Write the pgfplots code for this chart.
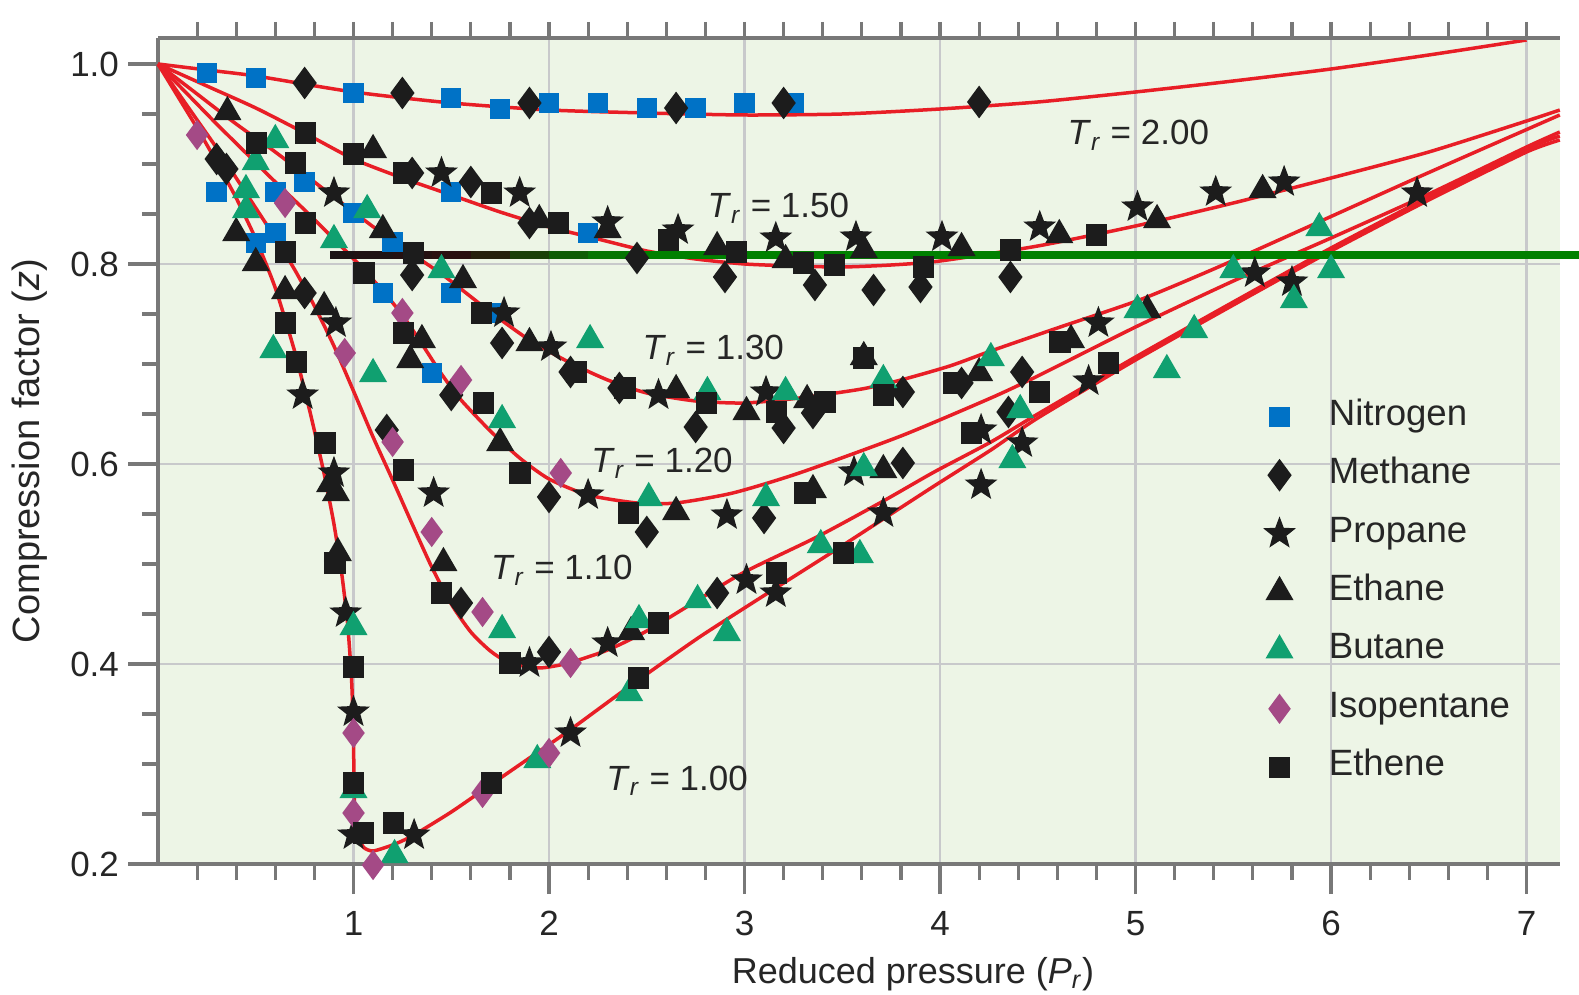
\documentclass[border=0pt]{standalone}
\usepackage{fontspec}
\setmainfont{Liberation Sans}
\usepackage{pgfplots}
\pgfplotsset{compat=1.18}
\usetikzlibrary{plotmarks}

\definecolor{bgc}{RGB}{237,245,230}
\definecolor{gridc}{RGB}{200,201,203}
\definecolor{axc}{RGB}{120,120,120}
\definecolor{redc}{RGB}{232,30,38}
\definecolor{nblue}{RGB}{0,114,198}
\definecolor{bgreen}{RGB}{16,160,112}
\definecolor{ipurp}{RGB}{164,74,134}
\definecolor{blk}{RGB}{28,28,28}
\definecolor{lgreen}{RGB}{0,128,0}

\pgfdeclareplotmark{fsq}{%
  \pgfpathrectanglecorners{\pgfqpoint{-\pgfplotmarksize}{-\pgfplotmarksize}}{\pgfqpoint{\pgfplotmarksize}{\pgfplotmarksize}}%
  \pgfusepathqfill}
\pgfdeclareplotmark{fdia}{%
  \pgfpathmoveto{\pgfqpoint{0pt}{\pgfplotmarksize}}%
  \pgfpathlineto{\pgfqpoint{0.74\pgfplotmarksize}{0pt}}%
  \pgfpathlineto{\pgfqpoint{0pt}{-\pgfplotmarksize}}%
  \pgfpathlineto{\pgfqpoint{-0.74\pgfplotmarksize}{0pt}}%
  \pgfpathclose\pgfusepathqfill}
\pgfdeclareplotmark{ftri}{%
  \pgfpathmoveto{\pgfqpoint{0pt}{\pgfplotmarksize}}%
  \pgfpathlineto{\pgfqpoint{-0.866\pgfplotmarksize}{-0.5\pgfplotmarksize}}%
  \pgfpathlineto{\pgfqpoint{0.866\pgfplotmarksize}{-0.5\pgfplotmarksize}}%
  \pgfpathclose\pgfusepathqfill}
\pgfdeclareplotmark{fstar}{%
  \pgfpathmoveto{\pgfqpointpolar{90}{\pgfplotmarksize}}%
  \pgfpathlineto{\pgfqpointpolar{126}{0.42\pgfplotmarksize}}%
  \pgfpathlineto{\pgfqpointpolar{162}{\pgfplotmarksize}}%
  \pgfpathlineto{\pgfqpointpolar{198}{0.42\pgfplotmarksize}}%
  \pgfpathlineto{\pgfqpointpolar{234}{\pgfplotmarksize}}%
  \pgfpathlineto{\pgfqpointpolar{270}{0.42\pgfplotmarksize}}%
  \pgfpathlineto{\pgfqpointpolar{306}{\pgfplotmarksize}}%
  \pgfpathlineto{\pgfqpointpolar{342}{0.42\pgfplotmarksize}}%
  \pgfpathlineto{\pgfqpointpolar{18}{\pgfplotmarksize}}%
  \pgfpathlineto{\pgfqpointpolar{54}{0.42\pgfplotmarksize}}%
  \pgfpathclose\pgfusepathqfill}

\begin{document}
\begin{tikzpicture}
\begin{axis}[name=ax, at={(0,0)}, anchor=south west,
  scale only axis, width=700.9pt, height=413pt,
  xmin=0, xmax=7.17, ymin=0.2, ymax=1.026, clip=false,
  axis x line*=bottom, axis y line*=left,
  axis line style={draw=axc, line width=1.6pt},
  axis background/.style={fill=bgc},
  xtick={1,2,3,4,5,6,7}, xticklabels={1,2,3,4,5,6,7},
  minor xtick={0.2,0.4,...,7.1},
  ytick={0.2,0.4,0.6,0.8}, yticklabels={0.2,0.4,0.6,0.8},
  extra y ticks={1.0}, extra y tick labels={1.0}, extra y tick style={grid=none},
  minor ytick={0.25,0.3,...,1.01},
  tick align=outside, major tick length=15pt, minor tick length=8pt,
  tick style={draw=axc, line width=1.6pt},
  xmajorgrids, ymajorgrids,
  major grid style={draw=gridc, line width=1.4pt},
  ticklabel style={font=\fontsize{17.5}{20}\selectfont, text=black!85},
  xticklabel style={yshift=-5pt},
  yticklabel style={xshift=-1pt},
  /pgf/number format/assume math mode=true,
  xlabel={Reduced pressure (\textit{P}\textsubscript{\textit{r}})},
  ylabel={Compression factor (\textit{z})},
  xlabel style={at={(axis description cs:0.5386,-0.145)}, anchor=base, font=\fontsize{18}{21}\selectfont, text=black!85},
  ylabel style={at={(axis description cs:-0.0915,0.5)}, anchor=center, font=\fontsize{19}{21}\selectfont, text=black!85},
  colormap={gl}{rgb255=(25,20,20) rgb255=(45,15,15) rgb255=(0,128,0)},
  legend cell align=left,
  legend style={at={(axis cs:5.62,0.673)}, anchor=north west, draw=none, fill=none,
    font=\fontsize{18.3}{21}\selectfont, text=black!85, row sep=7.8pt, column sep=14.5pt,
    nodes={text height=13pt, text depth=4.4pt, inner sep=2pt}},
]
% ---- red curves ----
\addplot[redc, line width=1.75pt, smooth, tension=0.4, forget plot] coordinates {
(0,1)(0.25,0.994)(0.5,0.988)(1,0.972)(1.5,0.961)(2,0.954)(2.5,0.951)(3,0.949)(3.5,0.950)(4,0.955)(4.5,0.962)(5,0.972)(5.5,0.983)(6,0.995)(6.5,1.009)(7,1.024)};
\addplot[redc, line width=1.75pt, smooth, tension=0.4, forget plot] coordinates {
(0,1)(0.25,0.978)(0.5,0.956)(0.75,0.931)(1.0,0.905)(1.25,0.886)(1.5,0.869)(1.75,0.852)(2.0,0.837)(2.25,0.825)(2.5,0.813)(2.75,0.805)(3.0,0.8)(3.25,0.798)(3.5,0.797)(3.75,0.799)(4.0,0.803)(4.5,0.818)(5.0,0.838)(5.5,0.861)(6.0,0.886)(6.5,0.912)(7.0,0.943)(7.17,0.954)};
\addplot[redc, line width=1.75pt, smooth, tension=0.4, forget plot] coordinates {
(0,1)(0.2,0.97)(0.4,0.94)(0.6,0.912)(0.8,0.882)(1.0,0.852)(1.2,0.823)(1.45,0.79)(1.7,0.752)(1.9,0.724)(2.1,0.702)(2.3,0.684)(2.5,0.671)(2.75,0.663)(3.0,0.661)(3.28,0.666)(3.6,0.675)(3.8,0.684)(4.05,0.698)(4.26,0.713)(4.6,0.736)(5.02,0.764)(5.4,0.795)(5.79,0.829)(6.46,0.888)(7.17,0.949)};
\addplot[redc, line width=1.75pt, smooth, tension=0.4, forget plot] coordinates {
(0,1)(0.15,0.97)(0.3,0.94)(0.45,0.911)(0.6,0.882)(0.75,0.854)(0.9,0.825)(1.05,0.795)(1.15,0.773)(1.25,0.749)(1.35,0.72)(1.45,0.69)(1.55,0.664)(1.7,0.633)(1.85,0.606)(2.0,0.585)(2.2,0.569)(2.45,0.561)(2.65,0.561)(2.94,0.571)(3.28,0.591)(3.8,0.628)(4.26,0.666)(4.5,0.688)(5.0,0.737)(5.5,0.783)(6.0,0.826)(6.5,0.87)(7.0,0.917)(7.17,0.932)};
\addplot[redc, line width=1.75pt, smooth, tension=0.4, forget plot] coordinates {
(0,1)(0.1,0.972)(0.2,0.944)(0.3,0.916)(0.4,0.886)(0.5,0.856)(0.6,0.826)(0.7,0.794)(0.8,0.758)(0.9,0.718)(1.0,0.673)(1.1,0.627)(1.2,0.584)(1.3,0.54)(1.4,0.497)(1.5,0.46)(1.6,0.432)(1.7,0.413)(1.8,0.401)(1.95,0.396)(2.1,0.401)(2.3,0.414)(2.5,0.433)(2.77,0.465)(3.0,0.492)(3.37,0.527)(3.71,0.563)(3.97,0.592)(4.26,0.622)(4.5,0.65)(5.0,0.707)(5.5,0.762)(6.0,0.816)(6.5,0.867)(7.0,0.915)(7.17,0.928)};
\addplot[redc, line width=1.75pt, smooth, tension=0.35, forget plot] coordinates {
(0,1)(0.1,0.968)(0.2,0.936)(0.3,0.902)(0.4,0.866)(0.5,0.825)(0.6,0.776)(0.7,0.712)(0.78,0.65)(0.85,0.59)(0.9,0.54)(0.94,0.49)(0.97,0.44)(0.99,0.385)(1.0,0.33)(1.003,0.27)(1.015,0.235)(1.05,0.217)(1.1,0.213)(1.2,0.219)(1.3,0.228)(1.5,0.252)(1.7,0.279)(1.9,0.306)(2.1,0.333)(2.4,0.376)(2.77,0.427)(3.16,0.476)(3.45,0.512)(3.71,0.545)(3.97,0.578)(4.26,0.614)(4.5,0.646)(5.0,0.704)(5.5,0.759)(6.0,0.813)(6.5,0.864)(7.0,0.912)(7.17,0.924)};
% ---- data ----
\addplot[only marks, mark=fsq, mark size=5.1pt, color=nblue] coordinates {
(0.25,0.991)(0.5,0.986)(1.0,0.971)(1.5,0.966)(1.75,0.955)(2.0,0.961)(2.25,0.961)(2.5,0.956)(2.75,0.956)(3.0,0.961)(3.25,0.961)
(0.3,0.872)(0.6,0.872)(0.75,0.882)(1.5,0.872)(1.0,0.851)(0.5,0.821)(0.6,0.831)(1.2,0.822)(2.2,0.831)(1.15,0.771)(1.5,0.771)(1.7,0.751)(1.4,0.691)};
\addlegendentry{Nitrogen}
\addplot[only marks, mark=fdia, mark size=8.2pt, color=blk] coordinates {
(0.75,0.981)(1.25,0.971)(1.9,0.961)(2.65,0.956)(3.2,0.961)(4.2,0.962)
(0.3,0.905)(0.35,0.895)(1.3,0.891)(1.6,0.882)(1.9,0.841)(2.45,0.806)(2.9,0.787)(3.36,0.779)(3.66,0.774)(3.9,0.777)(4.36,0.787)
(0.75,0.771)(1.3,0.789)(1.76,0.721)(1.5,0.669)(2.11,0.692)(2.36,0.676)(2.75,0.637)(3.2,0.636)(3.35,0.651)(3.81,0.672)(4.11,0.681)(4.42,0.692)
(1.17,0.634)(2.0,0.567)(2.5,0.532)(3.1,0.546)(3.81,0.601)(4.35,0.652)
(1.55,0.461)(2.0,0.412)(2.86,0.471)};
\addlegendentry{Methane}
\addplot[only marks, mark=fstar, mark size=8.6pt, color=blk] coordinates {
(0.9,0.871)(0.91,0.741)(1.45,0.891)(1.85,0.871)(1.77,0.751)(2.01,0.717)(2.3,0.842)(2.66,0.834)(3.16,0.826)(3.57,0.827)(4.01,0.827)(4.51,0.837)(5.01,0.857)(5.41,0.872)(5.76,0.882)(6.44,0.871)(5.61,0.791)(5.8,0.782)(4.81,0.741)(4.76,0.683)(2.56,0.669)(3.11,0.672)(3.56,0.592)(2.91,0.549)(3.71,0.551)(4.21,0.634)(4.42,0.621)(4.21,0.579)(3.01,0.484)(3.16,0.471)(2.3,0.421)(0.74,0.669)(0.9,0.591)(0.96,0.451)(1.41,0.571)(2.2,0.569)(1.9,0.401)(1.0,0.352)(1.0,0.229)(1.31,0.229)(2.11,0.331)};
\addlegendentry{Propane}
\addplot[only marks, mark=ftri, mark size=8.1pt, color=blk] coordinates {
(0.355,0.952)(0.4,0.831)(0.5,0.801)(1.1,0.914)(1.15,0.834)(1.56,0.784)(0.65,0.773)(0.85,0.757)(1.9,0.721)(1.35,0.724)(1.95,0.844)(2.3,0.834)(2.86,0.817)(3.21,0.804)(3.61,0.814)(4.11,0.816)(4.61,0.829)(5.11,0.844)(5.65,0.874)(5.06,0.754)(4.67,0.724)(2.65,0.674)(3.01,0.652)(3.32,0.664)(3.61,0.707)(3.71,0.594)(3.35,0.574)(2.65,0.552)(4.2,0.691)(1.29,0.704)(1.75,0.621)(0.88,0.58)(0.91,0.571)(0.92,0.511)(1.46,0.501)(2.42,0.432)};
\addlegendentry{Ethane}
\addplot[only marks, mark=ftri, mark size=8.1pt, color=bgreen] coordinates {
(0.45,0.874)(0.45,0.854)(0.6,0.924)(0.5,0.902)(0.9,0.824)(1.07,0.854)(1.45,0.794)(2.21,0.724)(0.59,0.714)(1.1,0.69)(1.76,0.644)(1.0,0.437)(1.76,0.434)(1.0,0.274)(1.21,0.209)(1.94,0.304)(2.41,0.371)(2.81,0.672)(3.21,0.672)(3.71,0.684)(4.26,0.706)(2.51,0.566)(3.11,0.566)(3.61,0.596)(4.41,0.654)(4.37,0.604)(3.39,0.519)(3.59,0.509)(2.76,0.464)(2.46,0.444)(2.91,0.431)(5.94,0.836)(5.5,0.794)(6.0,0.794)(5.81,0.764)(5.01,0.754)(5.3,0.734)(5.16,0.694)};
\addlegendentry{Butane}
\addplot[only marks, mark=fdia, mark size=7.6pt, color=ipurp] coordinates {
(0.2,0.929)(0.65,0.861)(1.25,0.751)(0.955,0.711)(1.55,0.684)(1.2,0.622)(2.06,0.591)(1.4,0.532)(1.66,0.452)(2.11,0.401)(1.0,0.331)(1.0,0.251)(1.1,0.199)(1.66,0.271)(2.0,0.311)};
\addlegendentry{Isopentane}
\addplot[only marks, mark=fsq, mark size=5.3pt, color=blk] coordinates {
(0.755,0.931)(1.0,0.91)(0.505,0.921)(0.704,0.901)(0.653,0.812)(0.755,0.841)(1.054,0.791)(1.306,0.811)(0.653,0.741)(0.709,0.702)(1.255,0.731)(1.656,0.751)(2.14,0.692)(1.255,0.891)(1.707,0.871)(2.048,0.841)(2.61,0.824)(2.96,0.812)(3.3,0.801)(3.46,0.799)(3.915,0.797)(4.36,0.814)(4.8,0.829)(4.614,0.722)(3.608,0.706)(2.389,0.676)(2.806,0.661)(3.164,0.652)(3.412,0.662)(3.71,0.669)(4.068,0.681)(4.51,0.672)(4.162,0.631)(2.406,0.551)(3.309,0.571)(3.505,0.511)(3.164,0.491)(2.559,0.441)(2.457,0.386)(4.86,0.701)(0.854,0.621)(1.852,0.591)(1.664,0.661)(0.905,0.501)(1.451,0.471)(1.8,0.401)(1.255,0.594)(1.0,0.397)(1.0,0.281)(1.05,0.231)(1.204,0.241)(1.707,0.281)};
\addlegendentry{Ethene}
% ---- green overlay line ----
\addplot[mesh, line width=4pt, point meta=explicit, forget plot] coordinates {
(0.88,0.809)[0] (1.0,0.809)[0.08] (1.2,0.809)[0.2] (1.4,0.809)[0.35] (1.6,0.809)[0.5] (1.8,0.809)[0.65] (2.0,0.809)[0.78] (2.2,0.809)[0.9] (2.4,0.809)[1] (7.27,0.809)[1]};
% ---- curve labels ----
\begin{scope}[every node/.style={anchor=base, font=\fontsize{17.5}{21}\selectfont, text=black!85}]
\node at (axis cs:5.014,0.919) {\textit{T}\textsubscript{\textit{r}} = 2.00};
\node at (axis cs:3.173,0.846) {\textit{T}\textsubscript{\textit{r}} = 1.50};
\node at (axis cs:2.84,0.704) {\textit{T}\textsubscript{\textit{r}} = 1.30};
\node at (axis cs:2.578,0.591) {\textit{T}\textsubscript{\textit{r}} = 1.20};
\node at (axis cs:2.066,0.484) {\textit{T}\textsubscript{\textit{r}} = 1.10};
\node at (axis cs:2.655,0.2735) {\textit{T}\textsubscript{\textit{r}} = 1.00};
\end{scope}
\end{axis}
\begin{axis}[at={(ax.south west)}, anchor=south west,
  scale only axis, width=700.9pt, height=413pt,
  xmin=0, xmax=7.17, ymin=0.2, ymax=1.026,
  axis x line*=top, axis y line=none,
  axis line style={draw=axc, line width=1.6pt},
  xtick={0.2,0.4,...,7.1}, xticklabels={}, ytick=\empty,
  tick align=outside, major tick length=8pt,
  tick style={draw=axc, line width=1.6pt}]
\end{axis}
\pgfresetboundingbox
\path[use as bounding box] ([shift={(-79pt,-65.5pt)}]ax.south west) rectangle ([shift={(710.5pt,432pt)}]ax.south west);
\end{tikzpicture}
\end{document}
